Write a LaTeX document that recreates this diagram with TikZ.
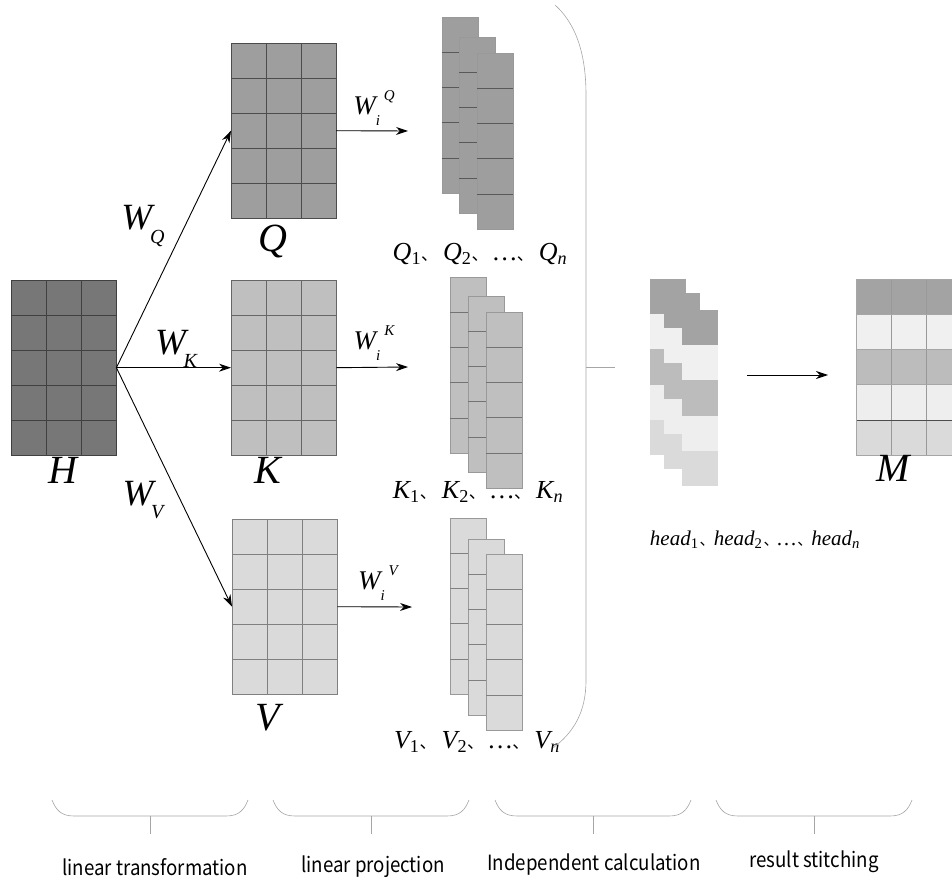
\documentclass[tikz,border=0pt]{standalone}
\usepackage{fontspec}
\usetikzlibrary{arrows.meta}
\newfontfamily\tnr{Liberation Serif}
\newfontfamily\cjk{Noto Sans CJK SC}
\newfontfamily\capfont[FakeStretch=0.89]{Noto Sans CJK SC}
\newcommand{\dun}{\makebox[0.85em][l]{\cjk\fontsize{17}{17}\selectfont 、}}
\newcommand{\dunh}{\makebox[0.72em][l]{\hspace{0.05em}\cjk\fontsize{15}{15}\selectfont 、}}
\newcommand{\sbs}[1]{\hspace{-0.06em}\raisebox{-0.36em}{\fontsize{20}{20}\selectfont #1}}
\newcommand{\up}[1]{\textsubscript{\upshape #1}}
\newcommand{\wsup}[2]{W\rlap{\raisebox{-0.4em}{\fontsize{15}{15}\selectfont #1}}\hspace{0.3em}\raisebox{0.5em}{\fontsize{15}{15}\selectfont #2}}
\definecolor{hfill}{HTML}{777777}
\definecolor{qfill}{HTML}{9E9E9E}
\definecolor{kfill}{HTML}{BFBFBF}
\definecolor{vfill}{HTML}{DADADA}
\definecolor{rowA}{HTML}{A3A3A3}
\definecolor{rowB}{HTML}{F0F0F0}
\definecolor{rowC}{HTML}{BCBCBC}
\definecolor{rowD}{HTML}{EEEEEE}
\definecolor{rowE}{HTML}{DADADA}
\newcommand{\matx}[5]{%
  \node[inner sep=0pt, minimum width=105pt, minimum height=175pt, anchor=north west, fill=#4] (#1) at (#2,#3) {};
  \foreach \i in {1,2} \draw[#5] (#2+\i*35,#3) -- ++(0,175);
  \foreach \j in {1,...,4} \draw[#5] (#2,#3+\j*35) -- ++(105,0);
  \draw[#5] (#1.north west) rectangle (#1.south east);
}
\newcommand{\colx}[5]{%
  \node[inner sep=0pt, minimum width=36pt, minimum height=176pt, anchor=north west, fill=#4, draw=gray!80] (#1) at (#2,#3) {};
  \foreach \j in {1,...,4} \draw[#5] (#2,#3+\j*35.2) -- ++(36,0);
}
\newcommand{\headx}[3]{%
  \node[inner sep=0pt, minimum width=36pt, minimum height=176pt, anchor=north west] (#1) at (#2,#3) {};
  \fill[rowA] (#2,#3) rectangle ++(36,35.2);
  \fill[rowB] (#2,#3+35.2) rectangle ++(36,35.2);
  \fill[rowC] (#2,#3+70.4) rectangle ++(36,35.2);
  \fill[rowD] (#2,#3+105.6) rectangle ++(36,35.2);
  \fill[rowE] (#2,#3+140.8) rectangle ++(36,35.2);
}
\tikzset{
  conn/.style={-{Stealth[length=12pt,width=8pt]}, line width=0.9pt, black},
  biglbl/.style={font=\tnr\itshape\fontsize{40}{40}\selectfont, inner sep=0pt},
  wlbl/.style={font=\tnr\itshape\fontsize{37}{37}\selectfont, inner sep=0pt},
  wilbl/.style={font=\tnr\itshape\fontsize{27}{27}\selectfont, inner sep=0pt},
  seqlbl/.style={font=\tnr\itshape\fontsize{26}{26}\selectfont, inner sep=0pt},
  headlbl/.style={font=\tnr\itshape\fontsize{21}{21}\selectfont, inner sep=0pt},
  brace/.style={draw=gray!70, line width=0.6pt},
  caplbl/.style={font=\capfont\fontsize{21}{21}\selectfont, inner sep=0pt}
}
\begin{document}
\begin{tikzpicture}[x=1pt,y=-1pt]
\useasboundingbox (0,0) rectangle (952,882);
% main matrices
\matx{H}{11}{280}{hfill}{black!75}
\matx{Q}{231}{43}{qfill}{black!70}
\matx{K}{231}{280}{kfill}{black!60}
\matx{V}{232}{519}{vfill}{black!50}
\node[biglbl] (Hl) at (63,470) {H};
\node[biglbl] (Ql) at (273,242) {Q};
\node[biglbl] (Kl) at (268,470) {K};
\node[biglbl] (Vl) at (268,718) {V};
% connectors H -> Q, K, V
\draw[conn] (H.east) -- (Q.west);
\draw[conn] (H.east) -- (K.west);
\draw[conn] (H.east) -- (V.west);
\node[wlbl] (wq) at (143,226) {W\sbs{Q}};
\node[wlbl] (wk) at (176,349) {W\sbs{K}};
\node[wlbl] (wv) at (143,500) {W\sbs{V}};
% projections
\coordinate (qe) at (408,131);
\coordinate (ke) at (408,367);
\coordinate (ve) at (412,607);
\draw[conn] (Q.east) -- (qe);
\draw[conn] (K.east) -- (ke);
\draw[conn] (V.east) -- (ve);
\node[wilbl] (wiq) at (374,108) {\wsup{i}{Q}};
\node[wilbl] (wik) at (374,343) {\wsup{i}{K}};
\node[wilbl] (wiv) at (378,583) {\wsup{i}{V}};
% Q stack
\colx{q1}{442}{17}{qfill}{black!65}
\colx{q2}{459}{37}{qfill}{black!65}
\colx{q3}{477}{53}{qfill}{black!65}
\node[seqlbl] (qs) at (480,254) {Q\up{1}\dun Q\up{2}\dun …\dun Q\textsubscript{n}};
% K stack
\colx{k1}{450}{277}{kfill}{black!55}
\colx{k2}{468}{296}{kfill}{black!55}
\colx{k3}{486}{312}{kfill}{black!55}
\node[seqlbl] (ks) at (478,492) {K\up{1}\dun K\up{2}\dun …\dun K\textsubscript{n}};
% V stack
\colx{v1}{450}{518}{vfill}{black!50}
\colx{v2}{468}{539}{vfill}{black!50}
\colx{v3}{486}{554}{vfill}{black!50}
\node[seqlbl] (vs) at (477,742) {V\up{1}\dun V\up{2}\dun …\dun V\textsubscript{n}};
% big bracket
\draw[brace] (555,5) .. controls (574,22) and (586,50) .. (586,95) -- (586,680) .. controls (586,712) and (574,732) .. (553,748);
\coordinate (bt) at (586,367);
\coordinate (btx) at (615,367);
\draw[brace] (bt) -- (btx);
% heads
\headx{h1}{650}{279}
\headx{h2}{664}{293}
\headx{h3}{682}{310}
\node[headlbl] (hs) at (755,540) {head\up{1}\dunh head\up{2}\dunh …\dunh head\textsubscript{n}};
% arrow to M
\coordinate (ms) at (747,375);
\coordinate (me) at (828,375);
\draw[conn] (ms) -- (me);
% M
\node[inner sep=0pt, minimum width=105pt, minimum height=176pt, anchor=north west] (M) at (856,279) {};
\fill[rowA] (856,279) rectangle ++(105,35.2);
\fill[rowB] (856,314.2) rectangle ++(105,35.2);
\fill[rowC] (856,349.4) rectangle ++(105,35.2);
\fill[rowD] (856,384.6) rectangle ++(105,35.2);
\fill[rowE] (856,419.8) rectangle ++(105,35.2);
\foreach \i in {35,70} \draw[gray!80] (856+\i,279) -- ++(0,176);
\foreach \j in {35.2,70.4,105.6} \draw[gray!70] (856,279+\j) -- ++(105,0);
\draw[black!70] (856,419.8) -- ++(105,0);
\draw[gray!70] (856,279) rectangle (961,455);
\node[biglbl] (Ml) at (893,468) {M};
% bottom braces
\foreach \a/\n in {52/a,273/b,495/c,716/d} {
  \draw[brace] (\a,800) .. controls (\a+4,810) and (\a+9,816) .. (\a+22,816) -- (\a+174,816) .. controls (\a+187,816) and (\a+192,810) .. (\a+196,800);
  \coordinate (t\n) at (\a+98,816);
  \coordinate (u\n) at (\a+98,834);
  \draw[brace] (t\n) -- (u\n);
}
\node[caplbl] (c1) at (155,867) {linear transformation};
\node[caplbl] (c2) at (373,867) {linear projection};
\node[caplbl] (c3) at (594,865) {Independent calculation};
\node[caplbl] (c4) at (814,862) {result stitching};
\end{tikzpicture}
\end{document}
